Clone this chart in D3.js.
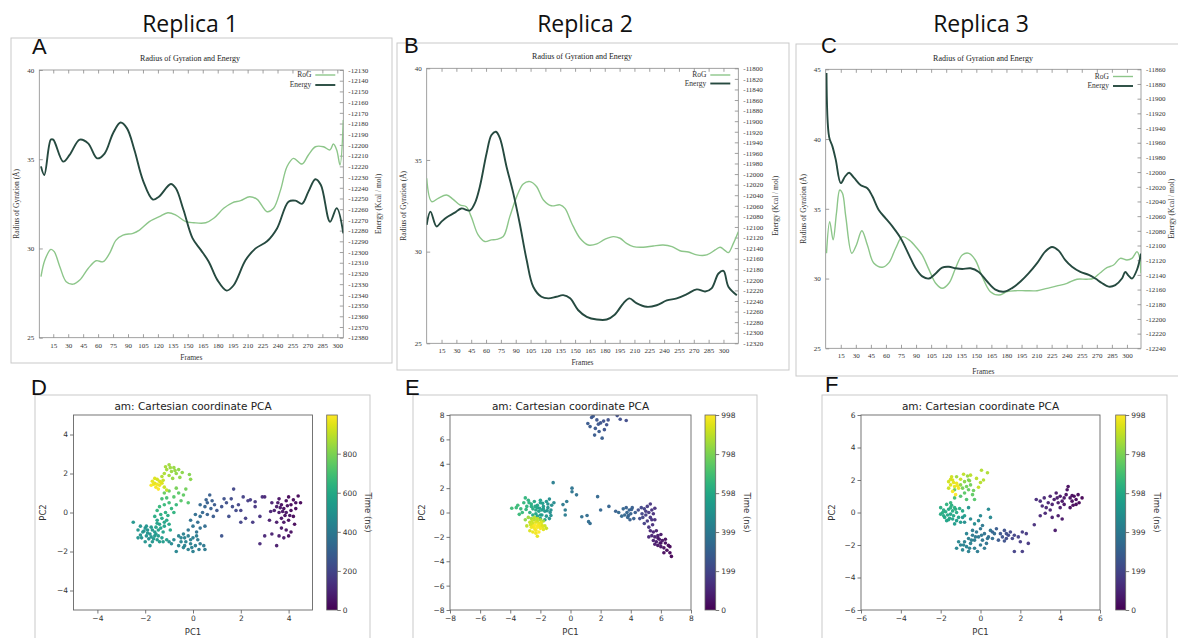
<!DOCTYPE html>
<html><head><meta charset="utf-8">
<script src="https://cdn.jsdelivr.net/npm/d3@7"></script>
<style>body{margin:0;background:#fff}svg{display:block}</style>
</head><body>
<svg id="c" width="1178" height="638"></svg>
<script>
// ---------------- DATA ----------------
const replicaTitles = ["Replica 1", "Replica 2", "Replica 3"];
const panelLetters = ["A", "B", "C", "D", "E", "F"];
const frameTicks = [15,30,45,60,75,90,105,120,135,150,165,180,195,210,225,240,255,270,285,300];
const rogTicks1 = [25,30,35,40];
const rogTicks2 = [25,30,35,40];
const rogTicks3 = [25,30,35,40,45];

// Replica 1 (frame, value)
const rep1Rog = [[2.7,28.42],[6.6,29.35],[12.6,29.95],[16,29.82],[21.6,28.98],[28,28.14],[35,28.0],[41.6,28.23],[50,28.88],[58,29.31],[65,29.26],[71.5,29.73],[78,30.47],[85,30.75],[95,30.85],[101.5,31.03],[111.4,31.5],[121.4,31.78],[130,32.0],[138,31.87],[148,31.5],[156,31.44],[168,31.44],[176,31.69],[186,32.25],[194.6,32.56],[203,32.68],[212,32.9],[219.6,32.75],[229.5,32.06],[236,32.25],[243,33.27],[249.5,34.58],[256,35.05],[264.5,34.73],[271,35.24],[278,35.70],[286,35.70],[292.7,35.52],[296,35.85],[299.4,35.52],[302.7,34.68],[306,37.2]];
const rep1Energy = [[2.7,-12220],[6,-12228],[12.6,-12195],[15,-12195],[25,-12215.6],[31.6,-12209],[41.6,-12195],[50,-12198.5],[59,-12212.5],[66.5,-12208],[75,-12189],[82.5,-12179],[89,-12184.5],[96.5,-12205],[105,-12233],[115,-12251],[121,-12248.3],[133,-12236.5],[138,-12240.5],[145.7,-12260.8],[154.7,-12287],[163,-12298],[171,-12309],[179.6,-12326],[189,-12336],[196,-12331],[208,-12307.5],[218,-12296.6],[229.5,-12290],[239.5,-12278],[251,-12253],[258,-12252],[264.5,-12255],[271,-12243.6],[278,-12232],[283.5,-12237.4],[292.7,-12271.7],[299.4,-12259],[306,-12282.5]];

// Replica 2
const rep2Rog = [[0,34.0],[5,32.73],[11.6,32.91],[20,33.09],[26.8,32.85],[33.5,32.55],[40,32.45],[45,31.91],[52,30.91],[58.8,30.55],[65.5,30.64],[70.6,30.67],[77.4,30.82],[84,31.91],[91,33.0],[97.6,33.69],[104.4,33.82],[111,33.55],[118,32.82],[126,32.5],[134.8,32.55],[139.8,32.36],[146.6,31.55],[155,30.73],[163.4,30.36],[172,30.42],[180,30.67],[188.7,30.82],[195.5,30.73],[202,30.45],[209,30.27],[219,30.24],[229,30.31],[239,30.36],[248,30.27],[256,30.05],[264.6,29.98],[273,29.82],[283,29.82],[291.6,30.09],[296.7,30.24],[301.7,30.05],[305,29.95],[310,30.45],[315,31.09]];
const rep2Energy = [[0,-12096],[3.8,-12071],[9.9,-12099],[15,-12090],[20,-12082],[28.4,-12073],[35,-12065],[43.6,-12069],[48.7,-12055],[53.7,-12024],[60.5,-11961],[65.5,-11926],[70,-11920],[74,-11932],[80.7,-11986],[87.5,-12036],[94,-12093],[101,-12162],[107.7,-12213],[116,-12232],[123,-12235],[131,-12232],[138,-12229],[145,-12235],[153,-12257],[161.8,-12270],[172,-12275],[182,-12275],[190,-12266],[199,-12244],[205,-12235],[212,-12244],[222.5,-12251],[232.5,-12248],[242.7,-12239],[252.8,-12235],[263,-12227],[273,-12218],[281.5,-12222],[288,-12216],[295,-12188],[300,-12183],[305,-12213],[313.5,-12229]];

// Replica 3
const rep3Rog = [[0.8,31.81],[4,34.08],[7.4,32.77],[10.7,34.68],[14,36.35],[16.7,36.11],[20,34.44],[26,31.81],[30.6,32.41],[36,33.43],[41.5,32.41],[48,31.09],[56.4,30.81],[63,31.14],[69.7,32.17],[76.3,33.0],[83,32.77],[91,32.17],[96,31.69],[103,30.62],[109.5,29.66],[116,29.30],[122.7,29.66],[129.3,30.74],[136,31.69],[142.6,31.81],[149,31.33],[155.9,30.14],[164,29.06],[172.4,28.82],[180.7,29.06],[189,29.13],[199,29.13],[210.5,29.13],[220.5,29.30],[230.4,29.47],[240.3,29.66],[250.3,29.95],[260,29.95],[266.8,30.02],[273.5,30.42],[280,30.78],[286.7,30.97],[293.3,31.45],[300,31.33],[305,31.45],[310,31.93],[312,31.69],[314,30.38]];
const rep3Energy = [[0.8,-11865],[3.4,-11952],[6.7,-11965],[10,-11983],[15,-12015],[19.3,-12006],[23.3,-12001],[28.3,-12008],[34.9,-12018],[41.5,-12022],[46.5,-12033],[53,-12052],[59.7,-12063],[66.4,-12074],[74.7,-12090],[83,-12113],[89.6,-12131],[96.2,-12142],[102.8,-12145],[109.5,-12138],[116,-12130],[122.7,-12129],[129.3,-12131],[136,-12132],[144.2,-12131],[152.5,-12136],[160.8,-12149],[169,-12160],[177.4,-12163],[185.6,-12158],[194,-12149],[202,-12138],[210.5,-12124],[218.8,-12108],[225.4,-12102],[232,-12107],[238.6,-12120],[245.3,-12129],[253.6,-12136],[262,-12140],[268.5,-12145],[275,-12151],[281.8,-12156],[288.4,-12154],[295,-12145],[298.3,-12136],[301.6,-12141],[305,-12145],[310,-12133],[314,-12111]];

// PCA points [PC1, PC2, time ns]
const pca1 = [
[3.9,0.6,20],[4.0,0.8,15],[3.6,0.7,40],[3.7,0.4,30],[3.5,0.3,60],[4.1,0.4,10],[4.3,0.5,25],[4.5,0.5,5],[4.4,0.85,12],[3.8,0.2,35],[3.9,0.0,45],[4.1,0.1,20],[3.6,0.0,55],[3.4,0.1,70],[3.3,0.5,80],[3.0,0.8,95],[3.2,-0.4,75],[3.5,-0.5,60],[3.8,-0.5,40],[4.0,-0.4,30],[4.2,-0.2,15],[4.3,0.2,8],[3.7,-0.8,50],[3.9,-0.9,45],[4.1,-1.0,35],[3.6,-1.2,65],[3.8,-1.3,55],[3.3,-1.1,85],[3.0,-1.2,100],[2.8,-1.6,110],[3.5,-1.7,70],[4.0,-1.2,25],[3.7,-0.3,45],[3.55,0.5,50],[4.25,-0.6,18],[3.95,0.35,28],[3.25,0.05,90],
[3.75,0.05,42],[4.05,-0.15,32],[3.85,-0.15,38],[3.65,0.25,48],[4.2,0.65,14],
[2.9,0.8,120],[2.6,0.3,150],[2.8,-0.2,140],[2.5,-0.5,160],[2.2,-0.3,180],[2.0,0.1,190],[1.7,1.2,210],[1.6,0.7,220],[2.3,0.6,175],[2.1,0.8,185],[1.9,0.4,200],[1.4,0.5,235],[1.2,0.3,245],[1.0,0.1,260],[1.8,0.1,215],[2.4,0.65,170],[2.6,0.55,155],[1.5,-0.2,230],[1.2,-1.2,250],[2.0,-0.5,195],[1.3,0.7,240],[0.9,0.4,270],[1.65,0.3,225],
[0.7,0.9,290],[0.8,0.6,285],[0.6,0.5,300],[0.5,0.3,310],[0.75,0.2,295],[0.4,0.0,320],[0.6,-0.1,305],[0.3,0.4,330],[0.85,-0.2,280],[0.55,0.65,300],
[0.3,-0.2,345],[0.1,-0.1,355],[0.2,-0.5,350],[-0.1,-0.4,365],[0.0,-0.7,370],[0.3,-0.8,360],[0.5,-0.7,345],[-0.2,-0.9,380],[0.15,-1.0,375],
[-0.6,-1.2,440],[-0.4,-1.1,430],[-0.2,-1.2,420],[0.0,-1.3,410],[0.2,-1.4,405],[-0.5,-1.5,445],[-0.3,-1.5,435],[-0.1,-1.6,425],[0.1,-1.7,415],[-0.4,-1.8,440],[-0.2,-1.9,430],[0.0,-2.0,420],[-0.6,-1.7,450],[-0.8,-1.4,460],[-0.7,-2.0,455],[0.3,-1.6,400],[0.45,-1.7,395],[0.5,-1.9,398],[-0.1,-1.4,428],[-0.35,-1.3,438],[0.15,-1.2,412],[-0.9,-1.6,465],
[-0.35,-1.7,436],[-0.05,-1.8,422],[0.25,-1.9,410],[-0.5,-1.3,442],
[-2.5,-0.5,520],[-2.2,-0.7,510],[-2.0,-0.8,505],[-1.9,-0.9,515],[-2.1,-1.0,500],[-1.8,-1.1,510],[-1.7,-0.9,525],[-1.95,-1.2,495],[-2.2,-1.15,505],[-1.6,-1.2,530],[-1.85,-1.35,490],[-1.5,-1.4,535],[-2.0,-1.5,500],[-1.7,-1.5,515],[-1.4,-1.5,540],[-1.25,-1.5,545],[-1.1,-1.4,550],[-2.3,-0.9,520],[-1.75,-0.75,530],[-1.6,-1.0,525],[-1.0,-1.5,480],[-1.8,-1.7,505],
[-2.05,-0.95,502],[-1.9,-1.05,508],[-1.75,-1.25,518],[-2.15,-1.3,498],[-1.65,-1.35,528],[-1.95,-0.7,512],[-1.55,-1.1,532],[-2.3,-1.3,508],[-1.45,-1.2,538],[-1.3,-1.3,542],
[-1.5,-0.4,580],[-1.3,-0.3,590],[-1.1,-0.4,600],[-1.4,-0.6,570],[-1.2,-0.7,575],[-1.0,-0.6,585],[-1.6,-0.2,610],[-1.35,-0.1,620],[-1.15,0.0,630],[-1.45,-0.9,565],[-1.25,-1.0,560],[-0.95,-0.9,590],[-1.55,-0.75,575],[-1.05,-0.15,615],
[-1.35,-0.8,568],[-1.2,-0.5,578],[-1.5,-0.55,572],
[-1.4,0.3,660],[-1.2,0.4,670],[-1.0,0.5,680],[-1.3,0.7,690],[-1.1,0.75,700],[-0.9,0.2,650],[-1.5,0.1,645],[-0.8,0.0,640],[-0.7,0.4,665],
[-0.6,1.0,740],[-0.4,0.9,750],[-0.8,0.8,730],[-0.5,0.6,735],[-1.2,1.0,760],[-1.0,1.1,770],[-0.2,0.5,725],[-0.3,1.2,780],[-0.7,1.25,790],
[-1.0,2.45,850],[-0.8,2.3,840],[-1.1,2.2,860],[-0.9,2.1,845],[-1.2,2.0,870],[-0.7,2.0,830],[-1.0,1.9,855],[-0.6,2.2,825],[-0.45,2.05,820],[-1.3,1.85,880],[-0.85,1.75,835],[-0.15,1.95,810],[-0.1,1.7,815],[-0.55,1.8,828],[-1.15,2.35,865],
[-0.95,2.3,848],[-0.75,2.15,838],
[-1.7,1.6,960],[-1.6,1.5,950],[-1.5,1.7,930],[-1.4,1.4,970],[-1.3,1.5,940],[-1.55,1.3,980],[-1.75,1.4,990],[-1.2,1.3,920],[-1.45,1.2,995],[-1.25,1.65,910],[-1.6,1.75,945],[-1.35,1.55,955],[-1.1,1.15,905],[-1.5,1.45,975],
[-1.65,1.45,965],[-1.4,1.6,950]
];
const pca2 = [
[1.4,7.8,260],[1.75,7.6,255],[1.3,7.05,270],[1.65,6.9,265],[2.0,7.35,250],[2.2,7.5,245],[2.4,7.2,240],[1.9,6.65,275],[1.6,6.35,280],[2.1,6.1,285],[1.5,7.9,262],[2.5,7.6,235],[3.1,7.95,230],[3.3,7.65,228],[3.7,7.55,225],[1.85,7.25,258],[2.25,6.8,248],[1.15,7.3,272],
[-1.15,2.45,420],[0.1,2.0,380],[0.1,1.7,385],[0.4,1.45,370],[-0.25,0.9,395],[-0.5,0.65,400],[-0.35,0.2,405],[-0.35,-0.2,410],[0.75,-0.35,360],[1.1,-0.25,350],[1.2,-0.75,345],[1.3,-0.9,340],[1.8,1.3,330],[2.0,0.2,320],[2.55,0.5,310],[3.0,0.1,300],
[3.2,0.0,330],[3.5,0.3,320],[3.7,0.4,300],[3.9,0.2,310],[4.1,0.4,290],[3.6,-0.2,325],[3.8,-0.4,315],[4.0,-0.1,305],[4.2,-0.5,295],[3.4,-0.3,335],[4.3,0.0,285],[3.95,-0.6,300],[3.75,0.0,318],[4.05,0.25,300],[3.85,-0.25,308],
[4.5,0.2,230],[4.7,0.4,210],[4.9,0.3,190],[5.1,0.5,170],[5.3,0.7,150],[5.4,0.2,140],[5.2,0.0,160],[5.0,-0.2,180],[4.8,-0.4,200],[4.6,-0.5,220],[5.5,-0.1,130],[5.3,-0.4,150],[5.1,-0.7,165],[4.9,-0.9,185],[5.6,-0.6,120],[5.45,-1.0,125],[5.2,-1.2,140],[4.75,-0.1,205],[5.6,0.35,135],[5.4,-0.6,140],[5.0,0.1,175],
[5.3,-1.5,100],[5.5,-1.6,90],[5.7,-1.5,80],[5.4,-1.9,95],[5.6,-2.0,75],[5.8,-1.9,70],[6.0,-1.8,60],[5.5,-2.3,85],[5.7,-2.4,65],[5.9,-2.2,55],[6.1,-2.3,45],[6.3,-2.5,30],[5.8,-2.7,50],[6.0,-2.8,40],[6.2,-2.9,25],[6.5,-2.7,20],[6.4,-3.1,15],[6.6,-2.8,10],[6.6,-3.3,5],[6.2,-3.3,20],[5.95,-2.5,48],[5.6,-2.6,70],[6.7,-3.6,2],[5.2,-2.0,105],[5.8,-2.1,58],[6.0,-2.5,38],[6.3,-2.2,28],
[-3.9,0.35,680],[-3.6,0.4,670],[-3.3,0.3,660],[-3.0,1.2,650],[-2.8,1.0,640],[-3.1,0.8,655],[-2.9,0.5,645],[-3.2,0.0,665],[-2.6,0.7,620],[-2.4,0.9,600],[-2.2,0.6,580],[-2.0,0.8,560],[-1.8,0.5,540],[-1.6,0.9,520],[-1.4,1.1,480],[-1.5,0.4,510],[-1.3,0.2,490],[-1.7,0.1,530],[-1.9,0.2,550],[-2.1,0.1,570],[-2.3,0.2,590],[-2.5,0.3,610],[-2.7,0.0,630],[-2.5,-0.2,600],[-2.2,-0.3,575],[-1.9,-0.2,545],[-1.6,-0.3,525],[-1.4,-0.5,505],[-1.25,0.6,485],[-1.1,0.8,470],[-1.7,-0.6,535],[-2.0,-0.5,565],[-3.5,0.6,675],[-2.95,0.25,648],[-2.05,0.35,558],[-1.55,0.15,515],[-2.35,0.5,595],[-1.85,0.75,545],[-2.75,0.8,635],[-1.3,-0.25,495],[-3.4,-0.15,668],
[-2.0,-0.2,560],[-2.3,-0.1,585],[-1.8,0.3,545],[-2.6,0.5,615],[-2.2,0.4,580],[-1.5,0.7,505],[-2.0,1.0,565],[-1.35,0.0,495],
[-2.8,-0.4,850],[-2.6,-0.5,870],[-2.4,-0.4,890],[-2.2,-0.5,900],[-2.0,-0.6,880],[-1.8,-0.7,860],[-2.7,-0.8,910],[-2.5,-0.9,930],[-2.3,-0.8,950],[-2.1,-0.9,960],[-1.9,-1.0,940],[-1.7,-1.1,920],[-2.9,-1.1,900],[-2.6,-1.2,970],[-2.4,-1.3,985],[-2.2,-1.2,990],[-2.0,-1.3,975],[-1.8,-1.4,955],[-2.7,-1.5,940],[-2.5,-1.6,965],[-2.3,-1.7,980],[-2.1,-1.6,995],[-2.2,-1.95,960],[-1.6,-1.3,915],[-3.0,-0.6,830],[-2.35,-1.05,998],[-1.95,-0.8,945],
[-2.45,-1.1,975],[-2.15,-1.05,985],[-2.55,-0.7,920],[-2.05,-1.1,968],[-2.3,-1.45,982],[-1.85,-1.15,950],[-2.65,-1.0,935],[-2.2,-0.7,905],[-2.4,-0.6,895]
];
const pca3 = [
[2.8,0.8,120],[3.0,0.7,110],[3.2,0.9,100],[3.4,0.6,90],[3.5,1.0,85],[3.6,0.5,80],[3.7,0.8,70],[3.3,0.3,95],[3.1,0.4,105],[3.8,1.2,60],[4.0,1.0,50],[4.1,0.7,45],[4.3,1.1,35],[4.4,1.6,30],[4.5,0.9,25],[4.6,0.7,20],[4.7,1.0,15],[4.8,0.8,10],[4.9,1.1,8],[5.1,0.9,3],[4.2,0.5,40],[4.0,0.3,55],[3.9,-0.2,58],[4.1,-0.4,48],[4.5,0.3,22],[4.8,0.5,12],[3.6,-0.3,75],[3.25,-0.05,98],[3.0,-0.2,108],[3.75,-1.1,65],[2.7,-0.75,125],[3.5,0.15,88],[4.35,1.4,32],[4.65,0.45,18],[4.95,0.6,6],[3.85,0.9,62],[4.2,0.9,42],[4.6,1.05,20],[3.9,0.6,58],
[0.6,-1.2,300],[0.8,-1.0,280],[1.0,-1.3,260],[1.2,-1.1,240],[1.4,-1.4,220],[1.5,-1.2,210],[1.3,-1.6,230],[1.1,-1.5,250],[1.6,-1.6,200],[1.9,-1.5,180],[2.1,-1.2,170],[2.3,-1.3,160],[2.4,-1.9,155],[2.0,-1.8,175],[1.7,-2.4,190],[2.1,-2.4,172],[0.9,-1.7,270],[1.2,-1.75,245],[1.3,-1.3,235],[1.7,-1.4,195],
[-1.2,-2.2,450],[-1.0,-2.0,440],[-0.8,-1.8,430],[-0.6,-1.6,420],[-0.4,-1.4,400],[-0.2,-1.2,390],[0.0,-1.0,380],[0.2,-1.3,370],[0.4,-1.5,360],[0.6,-1.6,350],[-0.9,-2.3,445],[-0.7,-2.1,435],[-0.5,-1.9,425],[-0.3,-1.7,410],[-0.1,-1.5,395],[0.1,-1.7,385],[0.3,-1.9,375],[-0.6,-2.4,430],[-0.3,-2.2,415],[0.0,-2.0,400],[0.2,-2.2,390],[-1.1,-1.8,455],[-0.4,-1.1,405],[0.1,-0.8,395],[-0.7,-1.3,438],[0.5,-1.1,365],[-0.15,-2.4,408],[0.7,-1.3,340],
[-0.25,-1.5,400],[-0.45,-1.7,420],[0.05,-1.4,385],[-0.55,-2.2,428],[0.35,-1.6,372],[-0.85,-2.0,440],
[-0.8,-0.6,480],[-0.5,-0.4,470],[-0.3,-0.7,475],[-0.1,-0.5,465],[0.0,-0.2,460],[0.4,0.2,470],[0.5,-0.3,462],[-0.9,-0.3,500],[-0.6,0.3,510],
[-2.0,0.3,620],[-1.9,0.0,610],[-1.8,-0.3,590],[-1.7,0.5,640],[-1.6,0.2,600],[-1.5,-0.1,580],[-1.4,-0.4,560],[-1.3,0.3,630],[-1.2,0.0,600],[-1.1,-0.3,570],[-1.0,-0.6,540],[-1.5,0.6,650],[-1.7,-0.5,575],[-1.3,-0.7,545],[-0.9,0.1,590],[-0.8,-0.2,555],[-1.85,0.15,615],[-1.45,0.45,625],[-1.55,-0.35,585],[-1.2,-0.5,550],[-2.0,-0.1,605],[-1.05,0.25,615],[-1.65,-0.15,595],
[-1.75,0.05,605],[-1.6,-0.45,585],[-1.4,0.1,615],[-1.85,-0.2,598],[-1.25,0.2,625],[-1.5,0.3,635],[-1.35,-0.2,590],
[-1.3,0.9,700],[-1.0,1.0,720],[-0.8,1.2,740],[-0.6,1.4,760],[-0.5,1.7,780],[-0.6,2.0,800],[-0.8,1.9,820],[-1.0,1.7,830],[-1.2,2.2,850],[-1.3,1.4,760],[-0.4,1.1,750],[-0.3,0.8,730],[-0.7,0.8,710],[-0.9,1.5,790],[-0.65,2.25,840],[-0.35,1.35,770],[-0.7,1.6,780],[-0.55,1.95,815],
[-1.6,1.9,930],[-1.4,2.0,940],[-1.5,1.7,950],[-1.3,1.6,960],[-1.2,1.8,970],[-1.1,1.5,980],[-1.4,1.3,990],[-1.25,1.1,998],[-1.6,1.5,920],[-1.0,2.05,910],[-0.5,2.3,890],[-0.2,2.1,895],[0.05,2.6,880],[0.35,2.45,875],[0.15,2.0,885],[-0.85,2.35,900],[-1.45,2.2,925],[-0.1,1.55,905],[0.0,1.85,888],[-1.35,1.85,955],[-1.15,1.65,975],[-1.5,2.05,935]
];
const timeTicks1 = [0,200,400,600,800];
const timeTicks23 = [0,199,399,598,798,998];
const pcTicks1 = [-4,-2,0,2,4];
const pcTicks2 = [-8,-6,-4,-2,0,2,4,6,8];
const pcTicks3 = [-6,-4,-2,0,2,4,6];

// ---------------- DRAW ----------------
const svg = d3.select("#c");
const defs = svg.append("defs");
const ROG_C = "#8dc68a", EN_C = "#264a40";
const SERIF = "'Liberation Serif','DejaVu Serif',serif";
const SANS = "'DejaVu Sans',sans-serif";

function linePanel(c, idx){
  const g = svg.append("g");
  g.append("rect").attr("x",c.box[0]).attr("y",c.box[1]).attr("width",c.box[2]-c.box[0]).attr("height",c.box[3]-c.box[1])
    .attr("fill","#fff").attr("stroke","#c9c9c9").attr("stroke-width",1);
  const x = d3.scaleLinear().domain(c.xDom).range([c.L,c.R]);
  const y = d3.scaleLinear().domain(c.yDom).range([c.B,c.T]);
  const y2 = d3.scaleLinear().domain(c.y2Dom).range([c.B,c.T]);
  const y2Ticks = d3.range(c.y2Dom[0], c.y2Dom[1]+0.1, c.y2Step);
  const cid = "clipL"+idx;
  defs.append("clipPath").attr("id",cid).append("rect").attr("x",c.L).attr("y",c.T).attr("width",c.R-c.L).attr("height",c.B-c.T);
  const style = sel => { sel.select(".domain").remove(); sel.selectAll("line").attr("stroke","#777").attr("stroke-width",0.7);
    sel.selectAll("text").attr("font-family",SERIF).attr("font-size",7).attr("fill","#333"); };
  g.append("g").attr("transform",`translate(0,${c.B})`).call(d3.axisBottom(x).tickValues(frameTicks).tickSize(-3.5).tickPadding(5)).call(style);
  g.append("g").attr("transform",`translate(0,${c.T})`).call(d3.axisTop(x).tickValues(frameTicks).tickSize(-3.5).tickFormat("")).call(style);
  g.append("g").attr("transform",`translate(${c.L},0)`).call(d3.axisLeft(y).tickValues(c.yTicks).tickSize(-3.5).tickPadding(5).tickFormat(d3.format("d"))).call(style);
  g.append("g").attr("transform",`translate(${c.R},0)`).call(d3.axisRight(y2).tickValues(y2Ticks).tickSize(-3.5).tickPadding(5).tickFormat(d=>String(d))).call(style);
  g.append("rect").attr("x",c.L).attr("y",c.T).attr("width",c.R-c.L).attr("height",c.B-c.T).attr("fill","none").attr("stroke","#8a8a8a").attr("stroke-width",0.8);
  const lr = d3.line().x(d=>x(d[0])).y(d=>y(d[1])).curve(d3.curveCatmullRom.alpha(0.5));
  const le = d3.line().x(d=>x(d[0])).y(d=>y2(d[1])).curve(d3.curveCatmullRom.alpha(0.5));
  const pg = g.append("g").attr("clip-path",`url(#${cid})`);
  pg.append("path").datum(c.rog).attr("d",lr).attr("fill","none").attr("stroke",ROG_C).attr("stroke-width",1.4);
  pg.append("path").datum(c.energy).attr("d",le).attr("fill","none").attr("stroke",EN_C).attr("stroke-width",1.9);
  g.append("text").attr("x",c.titleX).attr("y",c.titleY).attr("text-anchor","middle").attr("font-family",SERIF).attr("font-size",8).attr("fill","#222").text("Radius of Gyration and Energy");
  g.append("text").attr("x",(c.L+c.R)/2).attr("y",c.framesY).attr("text-anchor","middle").attr("font-family",SERIF).attr("font-size",7.5).attr("fill","#333").text("Frames");
  g.append("text").attr("transform",`translate(${c.ylX},${(c.T+c.B)/2}) rotate(-90)`).attr("text-anchor","middle").attr("dy","0.35em").attr("font-family",SERIF).attr("font-size",7.5).attr("fill","#333").text("Radius of Gyration (Å)");
  g.append("text").attr("transform",`translate(${c.y2lX},${(c.T+c.B)/2}) rotate(-90)`).attr("text-anchor","middle").attr("dy","0.35em").attr("font-family",SERIF).attr("font-size",7.5).attr("fill","#333").text("Energy (Kcal / mol)");
  const lg = [["RoG",ROG_C,1.4,c.legY[0]],["Energy",EN_C,1.9,c.legY[1]]];
  lg.forEach(d=>{
    g.append("line").attr("x1",c.R-28).attr("x2",c.R-8).attr("y1",d[3]).attr("y2",d[3]).attr("stroke",d[1]).attr("stroke-width",d[2]);
    g.append("text").attr("x",c.R-32).attr("y",d[3]).attr("dy","0.33em").attr("text-anchor","end").attr("font-family",SERIF).attr("font-size",7.5).attr("fill","#333").text(d[0]);
  });
}

function pcaPanel(c, idx){
  const g = svg.append("g");
  g.append("rect").attr("x",c.box[0]).attr("y",c.box[1]).attr("width",c.box[2]-c.box[0]).attr("height",c.box[3]-c.box[1])
    .attr("fill","#fff").attr("stroke","#c9c9c9").attr("stroke-width",1);
  const x = d3.scaleLinear().domain(c.dom).range([c.L,c.R]);
  const y = d3.scaleLinear().domain(c.dom).range([c.B,c.T]);
  const col = d3.scaleSequential(d3.interpolateViridis).domain([0,998]);
  const cid = "clipP"+idx;
  defs.append("clipPath").attr("id",cid).append("rect").attr("x",c.L).attr("y",c.T).attr("width",c.R-c.L).attr("height",c.B-c.T);
  const pts = c.pts.slice().sort((a,b)=>a[2]-b[2]);
  g.append("g").attr("clip-path",`url(#${cid})`).selectAll("circle").data(pts).join("circle")
    .attr("cx",d=>x(d[0])).attr("cy",d=>y(d[1])).attr("r",1.8).attr("fill",d=>col(d[2])).attr("fill-opacity",0.95);
  const style = sel => { sel.select(".domain").remove(); sel.selectAll("line").attr("stroke","#555").attr("stroke-width",0.8);
    sel.selectAll("text").attr("font-family",SANS).attr("font-size",7.5).attr("fill","#333"); };
  g.append("g").attr("transform",`translate(0,${c.B})`).call(d3.axisBottom(x).tickValues(c.ticks).tickSize(3.5).tickPadding(2)).call(style);
  g.append("g").attr("transform",`translate(${c.L},0)`).call(d3.axisLeft(y).tickValues(c.ticks).tickSize(3.5).tickPadding(2)).call(style);
  g.append("rect").attr("x",c.L).attr("y",c.T).attr("width",c.R-c.L).attr("height",c.B-c.T).attr("fill","none").attr("stroke","#666").attr("stroke-width",0.9);
  g.append("text").attr("x",(c.L+c.R)/2).attr("y",c.T-5).attr("text-anchor","middle").attr("font-family",SANS).attr("font-size",10.5).attr("fill","#222").text("am: Cartesian coordinate PCA");
  g.append("text").attr("x",(c.L+c.R)/2).attr("y",c.B+25).attr("text-anchor","middle").attr("font-family",SANS).attr("font-size",8.5).attr("fill","#333").text("PC1");
  g.append("text").attr("transform",`translate(${c.pc2X},${(c.T+c.B)/2}) rotate(-90)`).attr("text-anchor","middle").attr("dy","0.35em").attr("font-family",SANS).attr("font-size",8.5).attr("fill","#333").text("PC2");
  const gid = "grad"+idx;
  const gr = defs.append("linearGradient").attr("id",gid).attr("x1",0).attr("y1",1).attr("x2",0).attr("y2",0);
  d3.range(0,1.0001,0.05).forEach(s=>gr.append("stop").attr("offset",s).attr("stop-color",d3.interpolateViridis(s)));
  g.append("rect").attr("x",c.cbX).attr("y",c.T).attr("width",c.cbW).attr("height",c.B-c.T).attr("fill",`url(#${gid})`).attr("stroke","#666").attr("stroke-width",0.8);
  const cy = d3.scaleLinear().domain([0,998]).range([c.B,c.T]);
  g.append("g").attr("transform",`translate(${c.cbX+c.cbW},0)`).call(d3.axisRight(cy).tickValues(c.cbTicks).tickSize(3.5).tickPadding(2).tickFormat(d3.format("d"))).call(style);
  g.append("text").attr("transform",`translate(${c.timeX},${(c.T+c.B)/2}) rotate(90)`).attr("text-anchor","middle").attr("dy","0.35em").attr("font-family",SANS).attr("font-size",8.5).attr("fill","#333").text("Time (ns)");
}

linePanel({box:[11,38,392,363],L:39.3,R:343.3,T:70,B:337.7,xDom:[1,306],yDom:[25,40],yTicks:rogTicks1,y2Dom:[-12380,-12130],y2Step:10,
  titleX:190,titleY:61,framesY:360,ylX:16,y2lX:378,legY:[75,85],rog:rep1Rog,energy:rep1Energy},1);
linePanel({box:[397,43,789,370],L:426.7,R:738.3,T:68.3,B:343.3,xDom:[0,315],yDom:[25,40],yTicks:rogTicks2,y2Dom:[-12320,-11800],y2Step:20,
  titleX:582,titleY:59,framesY:365,ylX:403,y2lX:775,legY:[75,83.5],rog:rep2Rog,energy:rep2Energy},2);
linePanel({box:[796,44,1190,376],L:825.7,R:1141,T:69.3,B:348.3,xDom:[0,314],yDom:[25,45],yTicks:rogTicks3,y2Dom:[-12240,-11860],y2Step:20,
  titleX:983,titleY:61,framesY:374,ylX:803,y2lX:1171,legY:[76.5,86],rog:rep3Rog,energy:rep3Energy},3);

pcaPanel({box:[35,395,370,660],L:73.5,R:312.5,T:415,B:610,dom:[-5,5],ticks:pcTicks1,cbX:326.7,cbW:10.6,cbTicks:timeTicks1,pc2X:43,timeX:368,pts:pca1},1);
pcaPanel({box:[413,395,757,660],L:450,R:691,T:415,B:610,dom:[-8,8],ticks:pcTicks2,cbX:705,cbW:10.7,cbTicks:timeTicks23,pc2X:422,timeX:747,pts:pca2},2);
pcaPanel({box:[822,395,1167,660],L:861,R:1100,T:415,B:610,dom:[-6,6],ticks:pcTicks3,cbX:1115.7,cbW:10,cbTicks:timeTicks23,pc2X:832,timeX:1157,pts:pca3},3);

[190,585,981].forEach((cx,i)=>svg.append("text").attr("x",cx).attr("y",32).attr("text-anchor","middle")
  .attr("font-family","'Open Sans',sans-serif").attr("font-size",23).attr("fill","#111").text(replicaTitles[i]));
const letterPos = [[32,54],[404,53],[821,53],[31,395],[405,395],[825,392]];
letterPos.forEach((p,i)=>svg.append("text").attr("x",p[0]).attr("y",p[1])
  .attr("font-family","'Liberation Sans',Arial,sans-serif").attr("font-size",22).attr("fill","#111").text(panelLetters[i]));
</script>
</body></html>
